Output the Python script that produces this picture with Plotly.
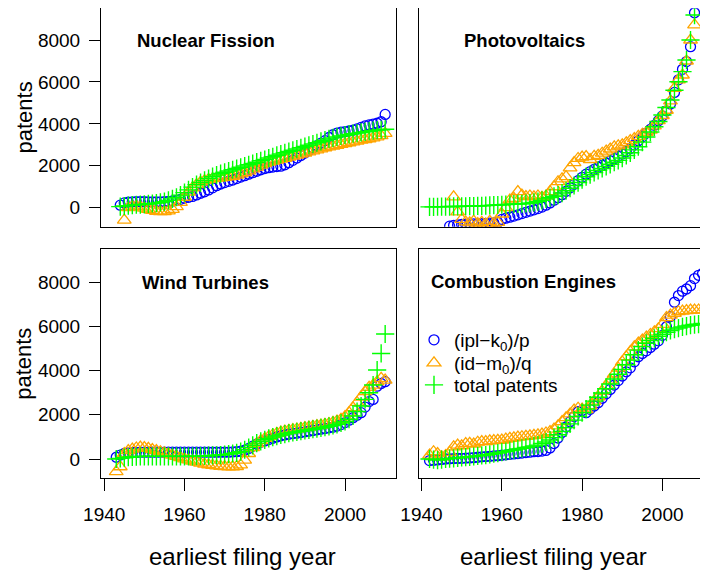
import plotly.graph_objects as go

# ---------------- data ----------------
years_nf = list(range(1944, 2011))
nf_ipl = [120, 230, 270, 280, 290, 290, 290, 280, 280, 280, 280, 290, 300, 320, 350, 400, 460, 500, 540, 610,
          690, 760, 850, 950, 1050, 1130, 1200, 1260, 1320, 1390, 1460, 1530, 1600, 1670, 1740, 1810, 1870,
          1910, 1940, 1960, 1980, 2050, 2150, 2260, 2370, 2490, 2610, 2730, 2850, 2960, 3080, 3200, 3350,
          3480, 3560, 3600, 3630, 3660, 3700, 3760, 3830, 3900, 3950, 3990, 4030, 4100, 4450]
nf_id = [None, -590, 0, 60, 80, 40, -20, -80, -130, -170, -190, -180, -150, -80, 50, 250, 500, 750, 950, 1100,
         1220, 1300, 1350, 1390, 1410, 1430, 1450, 1470, 1500, 1550, 1610, 1680, 1760, 1850, 1940, 2030, 2110,
         2170, 2220, 2270, 2320, 2360, 2410, 2460, 2510, 2560, 2610, 2660, 2710, 2760, 2810, 2860, 2900,
         2940, 2980, 3020, 3060, 3100, 3140, 3180, 3220, 3250, 3290, 3330, 3380, 3440, 3550]
nf_tot = [50, 80, 100, 120, 140, 150, 160, 180, 200, 220, 250, 290, 350, 420, 500, 600, 720, 850, 980, 1100,
          1200, 1300, 1390, 1480, 1560, 1630, 1690, 1750, 1810, 1870, 1930, 1990, 2050, 2110, 2170, 2240, 2300,
          2370, 2430, 2500, 2560, 2620, 2680, 2740, 2800, 2860, 2920, 2980, 3040, 3100, 3160, 3220, 3280,
          3330, 3380, 3420, 3460, 3500, 3530, 3560, 3590, 3620, 3650, 3680, 3700, 3720, 3740]

years_pv = list(range(1942, 2009))
pv_ipl = [None, None, None, None, None, -880, -840, -820, -800, -790, -780, -770, -760, -760, -750, -740, -730,
          -700, -560, -500, -450, -400, -340, -280, -220, -160, -100, -40, 30, 120, 230, 360, 480, 620, 780,
          950, 1120, 1290, 1450, 1600, 1720, 1830, 1930, 2020, 2120, 2230, 2340, 2450, 2560, 2680, 2830, 3000,
          3200, 3380, 3560, 3740, 3930, 4150, 4380, 4620, 4950, 5500, 6100, 6600, 6970, 7680, 9300]
pv_id = [None, None, None, None, None, None, 520, -200, -560, -680, -720, -640, -760, -700, -780, -650, -760,
         -700, -300, 0, 370, 450, 770, 600, 530, 560, 520, 560, 500, 560, 770, 1000, 1240, 1380, 1480, 1900,
         2150, 2350, 2420, 2440, 2300, 2450, 2500, 2600, 2700, 2800, 2900, 2950, 3000, 3100, 3200, 3300,
         3400, 3500, 3600, 3700, 3900, 4150, 4400, 4650, 5100, 5700, 6100, 6330, 7000, 8000, 8720]
pv_tot = [40, 40, 45, 50, 50, 55, 60, 60, 65, 70, 75, 80, 85, 90, 100, 110, 120, 130, 140, 150, 160, 170, 180,
          190, 200, 220, 250, 290, 350, 420, 480, 540, 600, 700, 810, 930, 1060, 1200, 1340, 1480, 1580, 1680,
          1780, 1870, 1970, 2070, 2170, 2260, 2370, 2490, 2620, 2760, 2910, 3130, 3370, 3610, 3860, 4110,
          4420, 4780, 5140, 5600, 6010, 6490, 7050, 8000, 9190]

years_wt = list(range(1943, 2011))
wt_ipl = [80, 180, 250, 280, 300, 300, 310, 310, 310, 310, 310, 310, 310, 310, 310, 310, 310, 310, 310, 310,
          310, 310, 310, 310, 310, 310, 310, 310, 310, 320, 330, 350, 400, 480, 580, 680, 760, 820, 880, 940,
          1000, 1050, 1090, 1120, 1150, 1170, 1200, 1230, 1260, 1290, 1320, 1350, 1380, 1410, 1440, 1490,
          1560, 1650, 1760, 1870, 1980, 2100, 2350, 2600, 2700, 3300, 3420, 3500]
wt_id = [-570, -350, 250, 380, 450, 500, 540, 520, 480, 430, 380, 330, 280, 230, 180, 120, 60, 10, -40, -90,
         -140, -190, -230, -260, -290, -310, -330, -340, -350, -350, -340, -270, -50, 250, 520, 700, 830, 930,
         1020, 1100, 1160, 1220, 1270, 1300, 1330, 1360, 1390, 1420, 1450, 1480, 1510, 1540, 1570, 1610,
         1660, 1720, 1800, 1920, 2100, 2320, 2560, 2800, 3050, 3250, 3350, 3500, 3650, 3570]
wt_tot = [0, 30, 60, 80, 100, 110, 120, 120, 120, 120, 120, 120, 120, 120, 120, 120, 120, 120, 120, 120, 130,
          130, 140, 150, 160, 170, 180, 200, 220, 250, 280, 330, 420, 520, 620, 720, 800, 870, 930, 990, 1040,
          1090, 1130, 1170, 1200, 1230, 1260, 1290, 1320, 1350, 1380, 1410, 1440, 1480, 1520, 1570, 1630,
          1700, 1800, 1950, 2150, 2400, 2700, 3000, 3350, 4030, 4780, 5660]

years_ce = list(range(1942, 2011))
ce_ipl = [-70, -60, -40, -20, 0, 10, 20, 25, 30, 40, 50, 60, 80, 100, 110, 120, 140, 150, 170, 190, 210, 230,
          250, 270, 290, 310, 330, 340, 360, 390, 500, 700, 950, 1200, 1450, 1690, 1920, 2140, 2200, 2100,
          2250, 2400, 2550, 2750, 2950, 3150, 3350, 3550, 3760, 3950, 4130, 4400, 4630, 4780, 4900, 5050,
          5200, 5350, 5600, 5990, 6450, 7100, 7400, 7600, 7700, 7850, 8170, 8320, 8400]
ce_id = [180, 330, 250, 100, 150, 300, 550, 630, 600, 700, 710, 680, 760, 790, 790, 820, 830, 850, 860, 900,
         940, 960, 990, 1010, 1030, 1050, 1070, 1090, 1130, 1180, 1240, 1350, 1500, 1690, 1870, 2040, 2220,
         2300, 2260, 2240, 2420, 2620, 2820, 3070, 3320, 3570, 3850, 4120, 4400, 4630, 4860, 5080, 5250,
         5390, 5520, 5640, 5760, 5900, 6100, 6400, 6520, 6600, 6670, 6700, 6720, 6740, 6740, 6750, 6750]
ce_tot = [0, -30, -50, -30, 0, 20, 30, 50, 70, 85, 100, 120, 140, 160, 180, 210, 240, 270, 310, 340, 380, 410,
          450, 480, 520, 550, 590, 630, 700, 770, 860, 970, 1100, 1250, 1420, 1590, 1760, 1930, 2100, 2260,
          2440, 2620, 2800, 2990, 3180, 3400, 3620, 3840, 4060, 4270, 4480, 4720, 4930, 5090, 5240, 5360,
          5460, 5560, 5650, 5740, 5820, 5880, 5930, 5980, 6020, 6060, 6090, 6110, 6140]

panel_titles = ["Nuclear Fission", "Photovoltaics", "Wind Turbines", "Combustion Engines"]
series_names = ["(ipl\u2212k<sub>0</sub>)/p", "(id\u2212m<sub>0</sub>)/q", "total patents"]
y_ticks = [0, 2000, 4000, 6000, 8000]
x_ticks = [1940, 1960, 1980, 2000]
x_label = "earliest filing year"
y_label = "patents"

# ---------------- figure ----------------
OFF = 8                      # page body margin of the browser
W, H = 708 - OFF, 573 - OFF
FONT = "Liberation Sans, Arial, Helvetica, sans-serif"
BLUE, ORANGE, GREEN = "#0000FF", "#FFA500", "#00FF00"


def px_x(p):
    return (p - OFF) / W


def px_y(p):
    return 1 - (p - OFF) / H


fig = go.Figure()

legend_ids = ["legend", "legend2", "legend3"]
panels = [
    (years_nf, nf_ipl, nf_id, nf_tot, "x", "y"),
    (years_pv, pv_ipl, pv_id, pv_tot, "x2", "y2"),
    (years_wt, wt_ipl, wt_id, wt_tot, "x3", "y3"),
    (years_ce, ce_ipl, ce_id, ce_tot, "x4", "y4"),
]
styles = [
    dict(symbol="circle-open", size=10, color=BLUE, line=dict(width=1.3)),
    dict(symbol="triangle-up-open", size=12, color=ORANGE, line=dict(width=1.3)),
    dict(symbol="cross-thin-open", size=13, color=GREEN, line=dict(width=1.4)),
]
for i, (yrs, a, b, c, xa, ya) in enumerate(panels):
    show = (i == 3)
    for k, vals in enumerate((a, b, c)):
        fig.add_trace(go.Scatter(x=yrs, y=vals, mode="markers", name=series_names[k], showlegend=show,
                                 legend=legend_ids[k], xaxis=xa, yaxis=ya, marker=styles[k]))

L_dom = [px_x(101), px_x(396)]
R_dom = [px_x(418.7), 1.0]
T_dom = [px_y(226.7), px_y(8.3)]
B_dom = [px_y(478.3), px_y(249.3)]
L_rng = [1939.2, 2012.7]
R_rng = [1939.3, 1939.3 + (708 - 418.7) / 4.015]
T_rng = [-906, 9513]
B_rng = [-874, 9497]

common_x = dict(showgrid=False, zeroline=False, showline=True, mirror=True, linecolor="black", linewidth=1,
                automargin=False, tickfont=dict(family=FONT, size=19, color="black"))
common_y = dict(showgrid=False, zeroline=False, showline=True, linecolor="black", linewidth=1,
                automargin=False, tickfont=dict(family=FONT, size=19, color="black"))

xt_bottom = dict(ticks="outside", ticklen=12, tickwidth=1, tickcolor="black", tickvals=x_ticks,
                 showticklabels=True, ticklabelstandoff=7)
xt_none = dict(ticks="", showticklabels=False)
yt_left = dict(ticks="outside", ticklen=11, tickwidth=1, tickcolor="black", tickvals=y_ticks,
               showticklabels=True, mirror=True, ticklabelstandoff=5)
yt_none = dict(ticks="", showticklabels=False, mirror=False)

leg_common = dict(xanchor="left", yanchor="middle", font=dict(family=FONT, size=19, color="black"),
                  bgcolor="rgba(0,0,0,0)", borderwidth=0)
leg_rows = [340, 363, 385]

fig.update_layout(
    width=W, height=H, margin=dict(l=0, r=0, t=0, b=0, autoexpand=False),
    paper_bgcolor="white", plot_bgcolor="white",
    font=dict(family=FONT, color="black"),
    xaxis=dict(domain=L_dom, range=L_rng, anchor="y", **common_x, **xt_none),
    yaxis=dict(domain=T_dom, range=T_rng, anchor="x", **common_y, **yt_left),
    xaxis2=dict(domain=R_dom, range=R_rng, anchor="y2", **common_x, **xt_none),
    yaxis2=dict(domain=T_dom, range=T_rng, anchor="x2", **common_y, **yt_none),
    xaxis3=dict(domain=L_dom, range=L_rng, anchor="y3", **common_x, **xt_bottom),
    yaxis3=dict(domain=B_dom, range=B_rng, anchor="x3", **common_y, **yt_left),
    xaxis4=dict(domain=R_dom, range=R_rng, anchor="y4", **common_x, **xt_bottom),
    yaxis4=dict(domain=B_dom, range=B_rng, anchor="x4", **common_y, **yt_none),
    legend=dict(x=px_x(414), y=px_y(leg_rows[0]), **leg_common),
    legend2=dict(x=px_x(414), y=px_y(leg_rows[1]), **leg_common),
    legend3=dict(x=px_x(414), y=px_y(leg_rows[2]), **leg_common),
    showlegend=True,
)

title_pos = [(135, 40), (462, 40), (140, 282), (429, 281)]
for t, (x, y) in zip(panel_titles, title_pos):
    fig.add_annotation(text="<b>" + t + "</b>", x=px_x(x), y=px_y(y), xref="paper", yref="paper",
                       xanchor="left", yanchor="middle", showarrow=False,
                       font=dict(family=FONT, size=18.5, color="black"))

for yc in (117.5, 363.8):
    fig.add_annotation(text=y_label, x=px_x(24), y=px_y(yc), xref="paper", yref="paper",
                       xanchor="center", yanchor="middle", textangle=-90, showarrow=False,
                       font=dict(family=FONT, size=22, color="black"))
for xc in (243, 553):
    fig.add_annotation(text=x_label, x=px_x(xc), y=px_y(556), xref="paper", yref="paper",
                       xanchor="center", yanchor="middle", showarrow=False,
                       font=dict(family=FONT, size=24, color="black"))

fig.write_html("out.html")
